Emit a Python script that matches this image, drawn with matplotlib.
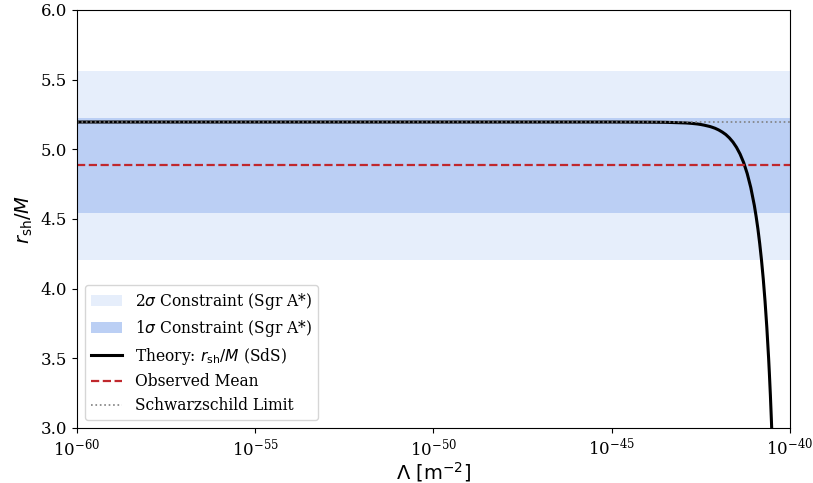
import numpy as np
import matplotlib
matplotlib.use("Agg")
import matplotlib.pyplot as plt

plt.rcParams['font.family'] = 'serif'

# values
obs_mean = 4.885
sigma = 0.34
schwarzschild = 5.196

# theory curve, log10(Lambda) vs r_sh/M
log_lam = [-60, -50, -46, -45, -44, -43.5, -43, -42.9, -42.75, -42.6, -42.5,
           -42.4, -42.25, -42.2, -42.1, -42.0, -41.9, -41.8, -41.7, -41.6,
           -41.5, -41.4, -41.3, -41.2, -41.1, -41.0, -40.95, -40.9, -40.85,
           -40.8, -40.75, -40.7, -40.65, -40.6, -40.58, -40.55, -40.52, -40.5]
r_sh = [5.196, 5.196, 5.196, 5.196, 5.195, 5.194, 5.190, 5.189, 5.186, 5.182,
        5.178, 5.173, 5.164, 5.160, 5.151, 5.139, 5.124, 5.106, 5.082, 5.052,
        5.014, 4.966, 4.905, 4.826, 4.726, 4.597, 4.518, 4.429, 4.325,
        4.207, 4.070, 3.910, 3.723, 3.502, 3.401, 3.235, 3.045, 2.905]

lam = 10.0 ** np.array(log_lam)

fig = plt.figure(figsize=(8.13, 4.83), dpi=100)
ax = fig.add_axes([0.0947, 0.1139, 0.877, 0.8654])

ax.axhspan(obs_mean - 2 * sigma, obs_mean + 2 * sigma, color='#e6eefb',
           lw=0, label=r'2$\sigma$ Constraint (Sgr A*)')
ax.axhspan(obs_mean - sigma, obs_mean + sigma, color='#bbcff4',
           lw=0, label=r'1$\sigma$ Constraint (Sgr A*)')
ax.plot(lam, r_sh, color='black', lw=2.2, label=r'Theory: $r_{\rm sh}/M$ (SdS)')
ax.axhline(obs_mean, color='#c0282d', ls='--', lw=1.6, label='Observed Mean')
ax.axhline(schwarzschild, color='gray', ls=':', lw=1.2, label='Schwarzschild Limit')

ax.set_xscale('log')
ax.set_xlim(1e-60, 1e-40)
ax.set_ylim(3.0, 6.0)
ax.set_xticks([1e-60, 1e-55, 1e-50, 1e-45, 1e-40])
ax.minorticks_off()
ax.tick_params(labelsize=12)
ax.set_xlabel(r'$\Lambda\ [\mathrm{m}^{-2}]$', fontsize=14, labelpad=0)
ax.set_ylabel(r'$r_{\rm sh}/M$', fontsize=14)
ax.legend(loc='lower left', fontsize=11.2, labelspacing=0.42)

fig.savefig('out.png')
